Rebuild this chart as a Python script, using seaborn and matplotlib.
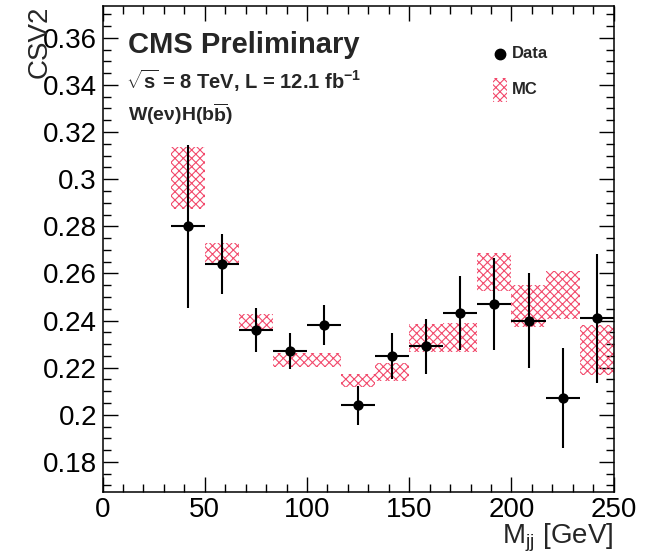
import numpy as np
import pandas as pd
import matplotlib
matplotlib.use("Agg")
import matplotlib.pyplot as plt
import seaborn as sns
from matplotlib.patches import Rectangle
from matplotlib.ticker import MultipleLocator, FuncFormatter

# Dijet invariant-mass bins [GeV]
mjj_edges = [33.3, 50.0, 66.7, 83.3, 100.0, 116.7, 133.3, 150.0,
             166.7, 183.3, 200.0, 216.7, 233.3, 250.0]

# Mean CSV2 in data, with statistical uncertainty
data_csv2 = [0.280, 0.264, 0.236, 0.227, 0.238, 0.204, 0.225,
             0.229, 0.243, 0.247, 0.240, 0.207, 0.241]
data_err = [0.0347, 0.0128, 0.0092, 0.0077, 0.0085, 0.0082, 0.0097,
            0.0115, 0.0157, 0.0196, 0.0201, 0.0212, 0.0273]

# Mean CSV2 in simulation, with its uncertainty band
mc_csv2 = [0.3005, 0.2684, 0.2394, 0.2232, 0.2232, 0.2144, 0.2182,
           0.2326, 0.2328, 0.2607, 0.2462, 0.2508, 0.2275]
mc_err = [0.0133, 0.0045, 0.0033, 0.0030, 0.0030, 0.0028, 0.0037,
          0.0058, 0.0060, 0.0081, 0.0089, 0.0103, 0.0106]

edges = np.array(mjj_edges)
df = pd.DataFrame({
    "mjj": 0.5 * (edges[:-1] + edges[1:]),
    "halfwidth": 0.5 * np.diff(edges),
    "width": np.diff(edges),
    "csv2": data_csv2,
    "err": data_err,
    "mc": mc_csv2,
    "mc_err": mc_err,
})

sns.set_style("ticks")
plt.rcParams["font.family"] = ["Liberation Sans", "DejaVu Sans"]
plt.rcParams["mathtext.fontset"] = "custom"
plt.rcParams["mathtext.rm"] = "Liberation Sans"
plt.rcParams["mathtext.it"] = "Liberation Sans:italic"
plt.rcParams["mathtext.bf"] = "Liberation Sans:bold"
plt.rcParams["hatch.linewidth"] = 0.8

HATCH_RED = "#f24a6c"

fig = plt.figure(figsize=(6.56, 5.56), dpi=100)
ax = fig.add_axes([102.5 / 656, 1 - 492.3 / 556, 511.2 / 656, 486.3 / 556])

# Simulation: hatched uncertainty boxes per bin
ax.bar(df["mjj"], 2 * df["mc_err"], bottom=df["mc"] - df["mc_err"],
       width=df["width"], facecolor="none", edgecolor=HATCH_RED,
       hatch="xxxx", linewidth=0, zorder=1)

# Data: error crosses and markers
ax.errorbar(df["mjj"], df["csv2"], xerr=df["halfwidth"], yerr=df["err"],
            fmt="none", ecolor="black", elinewidth=1.5, capsize=0, zorder=2)
sns.scatterplot(data=df, x="mjj", y="csv2", ax=ax, color="black", s=55,
                edgecolor="black", linewidth=0, zorder=3, legend=False)

ax.set_xlim(0, 250)
ax.set_ylim(0.1671, 0.3735)

ax.xaxis.set_major_locator(MultipleLocator(50))
ax.xaxis.set_minor_locator(MultipleLocator(10))
ax.yaxis.set_major_locator(MultipleLocator(0.02))
ax.yaxis.set_minor_locator(MultipleLocator(0.005))
ax.yaxis.set_major_formatter(FuncFormatter(lambda v, _: f"{v:g}"))
ax.xaxis.set_major_formatter(FuncFormatter(lambda v, _: f"{v:g}"))

ax.tick_params(which="both", direction="in", top=True, right=True,
               width=1.0, colors="black", labelsize=20)
ax.tick_params(which="major", length=11)
ax.tick_params(which="minor", length=5.5)
ax.tick_params(axis="y", which="major", pad=4)
ax.tick_params(axis="x", which="major", pad=3.5)
for sp in ax.spines.values():
    sp.set_linewidth(1.1)
    sp.set_color("black")

ax.set_xlabel("M$_{\\mathrm{jj}}$ [GeV]", fontsize=20, loc="right")
ax.set_ylabel("CSV2", fontsize=20, loc="top")
ax.yaxis.set_label_coords(-0.097, 1.0)
ax.xaxis.set_label_coords(1.0, -0.06)

# Header text
ax.text(0.0499, 0.9033, "CMS Preliminary", transform=ax.transAxes,
        fontsize=21, fontweight="bold", va="baseline", ha="left")
ax.text(0.0460, 0.8293, "$\\sqrt{\\mathbf{s}}$ = 8 TeV, L = 12.1 fb$^{\\mathbf{-1}}$",
        transform=ax.transAxes, fontsize=14.5, fontweight="bold",
        va="baseline", ha="left")
ax.text(0.0499, 0.7635, "W(e\u03bd)H(b$\\overline{\\mathbf{b}}$)",
        transform=ax.transAxes, fontsize=14, fontweight="bold",
        va="baseline", ha="left")

# Legend
ax.plot([0.7776], [0.9013], "o", color="black", markersize=7.5,
        transform=ax.transAxes, clip_on=False)
ax.text(0.801, 0.9013, "Data", transform=ax.transAxes, fontsize=12,
        fontweight="bold", va="center", ha="left")
ax.add_patch(Rectangle((0.7639, 0.8026), 0.0274, 0.0494, transform=ax.transAxes,
                       facecolor="none", edgecolor=HATCH_RED, hatch="xxxx",
                       linewidth=0))
ax.text(0.801, 0.8275, "MC", transform=ax.transAxes, fontsize=12,
        fontweight="bold", va="center", ha="left")

fig.savefig("out.png", dpi=100, facecolor="white")
